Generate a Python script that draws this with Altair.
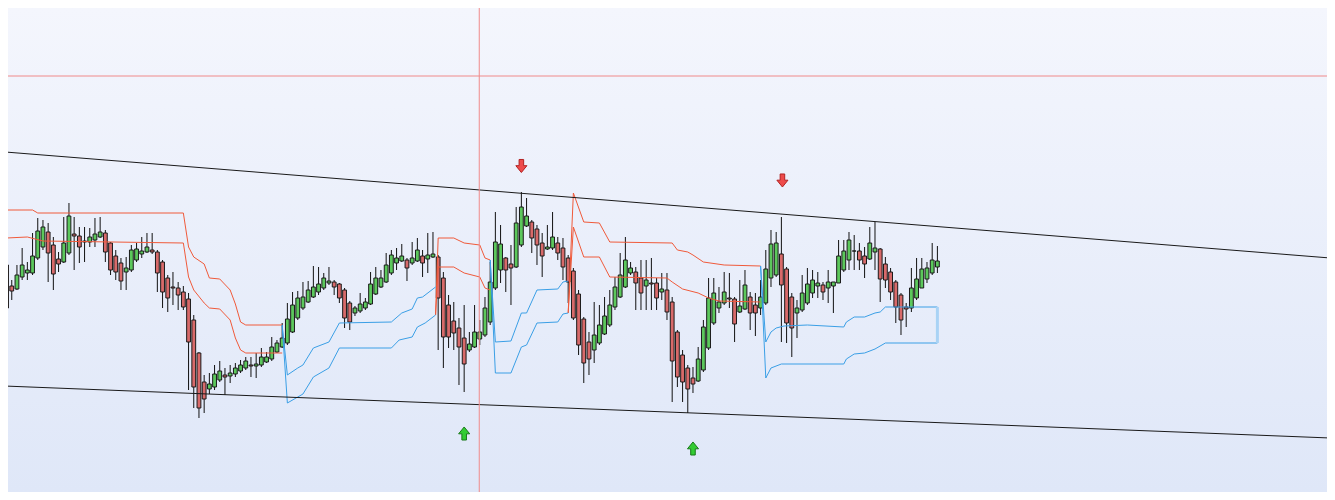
import altair as alt
import pandas as pd

# ---- candle data (price units, one value per bar) ----
opens = [235,214,211,223,227,227,242,253,268,255,
         241,238,247,266,264,259,258,260,263,267,
         257,244,237,228,230,240,246,248,250,248,
         238,222,213,212,208,201,180,147,118,111,
         113,120,125,124,126,129,132,135,134,135,
         138,141,148,153,157,168,182,192,198,203,
         208,212,217,218,216,210,197,187,189,192,
         196,206,213,218,227,237,239,240,237,239,
         244,241,243,243,222,195,179,172,162,150,
         153,161,165,178,212,230,242,236,233,255,
         274,278,271,257,251,252,257,252,242,229,
         206,181,158,150,157,166,175,193,203,213,
         227,228,222,214,217,217,208,210,198,168,
         145,132,122,119,130,152,177,192,197,202,
         201,188,191,203,195,192,197,222,225,246,
         231,203,187,190,197,207,214,215,212,214,
         217,230,240,249,249,244,241,248,251,236,
         228,218,205,193,192,202,212,221,227,233]
highs = [238,220,235,252,238,267,282,280,277,263,
         248,283,297,283,273,273,272,282,283,270,
         258,250,242,243,255,257,263,267,267,250,
         240,225,228,218,214,207,185,148,125,127,
         135,139,132,135,137,140,143,143,147,152,
         148,163,160,177,197,208,209,218,219,234,
         233,227,233,220,217,212,199,194,207,202,
         228,233,230,247,250,252,256,242,258,262,
         250,267,268,245,228,205,198,182,195,168,
         195,180,203,238,288,275,243,255,293,308,
         302,280,275,267,275,288,263,262,245,232,
         210,183,168,198,195,203,210,223,247,263,
         238,233,240,240,242,222,227,227,203,170,
         150,135,133,153,180,222,222,213,228,227,
         203,220,230,208,207,220,250,270,268,283,
         233,207,200,225,232,230,228,218,230,218,
         260,260,268,265,257,253,273,278,252,243,
         232,220,207,197,232,242,242,238,257,254]
lows = [182,200,210,220,220,225,240,250,218,210,
        228,237,245,230,237,238,253,253,262,238,
        225,220,210,210,228,238,242,247,246,208,
        192,188,195,190,190,110,92,82,87,106,
        110,118,105,117,123,127,130,123,122,133,
        137,139,147,152,155,167,180,190,197,202,
        205,210,215,205,197,172,170,184,187,190,
        195,205,212,217,225,230,238,219,235,238,
        223,227,242,150,132,152,150,115,108,148,
        152,155,163,175,210,217,208,195,232,253,
        273,247,235,223,250,250,240,220,197,180,
        145,117,125,137,155,165,173,190,202,212,
        225,190,190,190,190,190,200,180,98,113,
        98,87,107,118,128,150,175,187,195,192,
        158,187,190,170,164,185,195,213,223,158,
        157,143,162,188,195,202,202,200,197,187,
        217,228,230,230,230,222,240,230,198,212,
        200,177,165,173,188,200,212,217,225,227]
closes = [192,209,225,235,230,244,269,273,247,226,
          236,257,284,264,253,258,263,266,268,248,
          230,228,219,232,250,251,249,253,248,227,
          208,202,212,205,193,158,113,92,101,116,
          126,129,123,127,132,135,139,134,136,143,
          143,153,157,162,181,195,202,203,210,213,
          216,222,219,213,202,182,178,192,196,198,
          216,222,222,235,245,242,244,232,242,250,
          237,245,246,202,163,163,167,153,136,156,
          168,168,192,218,258,256,230,232,277,293,
          284,262,255,244,253,263,247,233,218,182,
          155,137,141,165,175,184,195,213,225,240,
          232,217,207,220,216,202,211,188,139,123,
          118,111,116,141,173,202,207,198,208,201,
          176,194,215,187,187,203,231,256,257,215,
          177,172,192,207,216,220,217,208,218,218,
          244,249,260,249,240,236,257,252,221,220,
          208,193,180,191,212,221,231,232,240,239]

# ---- indicator lines: (bar position, price) breakpoints ----
red_upper_a = [(0,290),(5,290),(6,287),(34,287),(35,253),(36,243),(38,236),(39,222),(41,221),(43,210),(44,196),(45,178),(46,175),(53,175)]
red_lower_a = [(0,262),(4,263),(7,259),(34,257),(35,223),(36,210),(38,197),(39,192),(41,191),(43,180),(44,162),(45,150),(46,147),(53,147)]
blue_upper_a = [(53,175),(54,125),(56,132),(57,135),(59,152),(62,158),(64,177),(74,178),(76,187),(78,191),(79,202),(80,203),(82.5,213)]
blue_lower_a = [(53,175),(54,97),(56,103),(57,106),(59,123),(62,132),(64,152),(74,152),(75.5,160),(78,163),(79,173),(80.5,177),(82.5,185)]
red_upper_b = [(82.5,185),(83,262),(86,262),(88,257),(91,255),(92,242),(93,240)]
red_lower_b = [(82.5,185),(83,233),(86,233),(88,227),(91,223),(92,212),(93,210)]
blue_upper_b = [(93,240),(94,158),(97,159),(99,187),(100,187),(102,210),(106,211),(107,218),(108,219)]
blue_lower_b = [(93,240),(94,127),(97,127),(99,153),(100,155),(102,177),(106,178),(107,186),(108,187)]
red_upper_c = [(108,187),(109,307),(111,278),(114,277),(116,258),(128,257),(129,250),(131,248),(132,245),(134,238),(138,235),(145,234)]
red_lower_c = [(108,187),(109,273),(111,243),(114,243),(116,223),(127,222),(128,218),(130,211),(133,207),(135,202),(137,199),(145,198)]
blue_upper_d = [(145,234),(146,158),(147,168),(148,172),(149.5,174),(154,175),(161,173),(161.5,178),(163,183),(165,183),(167,187),(168,188),(169,193),(179,193)]
blue_lower_d = [(145,234),(146,122),(147,132),(149,136),(161,136),(161.5,141),(163,146),(165,147),(167,151),(169,157),(179,157)]
range_bar = [(179, 193, 157)]

# trend channel lines (two anchor points each)
upper_trend = [(-1, 348.3), (256, 241.4)]
lower_trend = [(-1, 114.1), (256, 61.7)]

# crosshair
cross_bar = [90.9]
cross_price = [424]

# signal arrows
down_arrows = [(99, 334), (149.2, 319.5)]
up_arrows = [(88, 66.5), (132, 51.5)]

# ---- build tables ----
W, H = 1319, 484
xs = alt.Scale(domain=[1.24, 252.96], nice=False, zero=False)
ys = alt.Scale(domain=[8, 492], nice=False, zero=False)

n = len(opens)
candles = pd.DataFrame({
    "bar": list(range(n)), "open": opens, "high": highs, "low": lows, "close": closes,
})
candles["dir"] = ["up" if c >= o else "down" for o, c in zip(opens, closes)]

def seg_rows(name, color, pts):
    return [{"seg": name, "grp": color, "ord": i, "bar": x, "price": p} for i, (x, p) in enumerate(pts)]

rows = []
for name, col, pts in [
    ("rua", "red", red_upper_a), ("rla", "red", red_lower_a),
    ("bua", "blue", blue_upper_a), ("bla", "blue", blue_lower_a),
    ("rub", "red", red_upper_b), ("rlb", "red", red_lower_b),
    ("bub", "blue", blue_upper_b), ("blb", "blue", blue_lower_b),
    ("ruc", "red", red_upper_c), ("rlc", "red", red_lower_c),
    ("bud", "blue", blue_upper_d), ("bld", "blue", blue_lower_d),
]:
    rows += seg_rows(name, col, pts)
lines = pd.DataFrame(rows)

trend = pd.DataFrame([
    {"x1": upper_trend[0][0], "y1": upper_trend[0][1], "x2": upper_trend[1][0], "y2": upper_trend[1][1]},
    {"x1": lower_trend[0][0], "y1": lower_trend[0][1], "x2": lower_trend[1][0], "y2": lower_trend[1][1]},
])
rb = pd.DataFrame([{"bar": b, "top": t, "bot": bt} for b, t, bt in range_bar])
downs = pd.DataFrame([{"bar": b, "price": p} for b, p in down_arrows])
ups = pd.DataFrame([{"bar": b, "price": p} for b, p in up_arrows])
cx = pd.DataFrame({"bar": cross_bar})
cy = pd.DataFrame({"price": cross_price})

X = lambda f: alt.X(f, scale=xs, axis=None)
Y = lambda f: alt.Y(f, scale=ys, axis=None)

grad = alt.Gradient(gradient="linear",
                    stops=[alt.GradientStop(color="#f4f6fd", offset=0),
                           alt.GradientStop(color="#dfe7f8", offset=1)],
                    x1=0, x2=0, y1=0, y2=1)
bg = alt.Chart(pd.DataFrame({"k": [0]})).mark_rect(color=grad).encode(
    x=alt.value(0), x2=alt.value(W), y=alt.value(0), y2=alt.value(H))

wicks = alt.Chart(candles).mark_rule(color="#111111", strokeWidth=1, clip=True).encode(
    x=X("bar:Q"), y=Y("low:Q"), y2="high:Q")
bodies = alt.Chart(candles).mark_bar(size=3.8, stroke="#1a1a1a", strokeWidth=1, clip=True).encode(
    x=X("bar:Q"), y=Y("open:Q"), y2="close:Q",
    color=alt.Color("dir:N", scale=alt.Scale(domain=["up", "down"], range=["#5cc85c", "#d86a6a"]), legend=None))

red_lines = alt.Chart(lines[lines.grp == "red"]).mark_line(color="#f05a3a", strokeWidth=1, clip=True).encode(
    x=X("bar:Q"), y=Y("price:Q"), detail="seg:N", order="ord:Q")
blue_lines = alt.Chart(lines[lines.grp == "blue"]).mark_line(color="#3a9fe6", strokeWidth=1, clip=True).encode(
    x=X("bar:Q"), y=Y("price:Q"), detail="seg:N", order="ord:Q")
rbar = alt.Chart(rb).mark_rule(color="#a9d3f5", strokeWidth=3, clip=True).encode(
    x=X("bar:Q"), y=Y("top:Q"), y2="bot:Q")

trend_lines = alt.Chart(trend).mark_rule(color="#1a1a1a", strokeWidth=1, clip=True).encode(
    x=X("x1:Q"), y=Y("y1:Q"), x2="x2:Q", y2="y2:Q")

vline = alt.Chart(cx).mark_rule(color="#f08a8a", strokeWidth=1, clip=True).encode(x=X("bar:Q"))
hline = alt.Chart(cy).mark_rule(color="#f08a8a", strokeWidth=1, clip=True).encode(y=Y("price:Q"))

down_path = "M-0.35,-1 L0.35,-1 L0.35,-0.05 L0.85,-0.05 L0,1 L-0.85,-0.05 L-0.35,-0.05 Z"
up_path = "M-0.35,1 L0.35,1 L0.35,0.05 L0.85,0.05 L0,-1 L-0.85,0.05 L-0.35,0.05 Z"
down_marks = alt.Chart(downs).mark_point(shape=down_path, filled=True, size=170, fill="#ee4b4b",
                                         stroke="#b22222", strokeWidth=1, opacity=1, clip=True).encode(
    x=X("bar:Q"), y=Y("price:Q"))
up_marks = alt.Chart(ups).mark_point(shape=up_path, filled=True, size=170, fill="#33cc33",
                                     stroke="#1a7a1a", strokeWidth=1, opacity=1, clip=True).encode(
    x=X("bar:Q"), y=Y("price:Q"))

chart = alt.layer(bg, wicks, bodies, red_lines, blue_lines, rbar, trend_lines, vline, hline,
                  down_marks, up_marks).properties(
    width=W, height=H, padding=0
).configure_view(strokeWidth=0)

chart.save("out.html", embed_options={"renderer": "svg", "actions": False})
